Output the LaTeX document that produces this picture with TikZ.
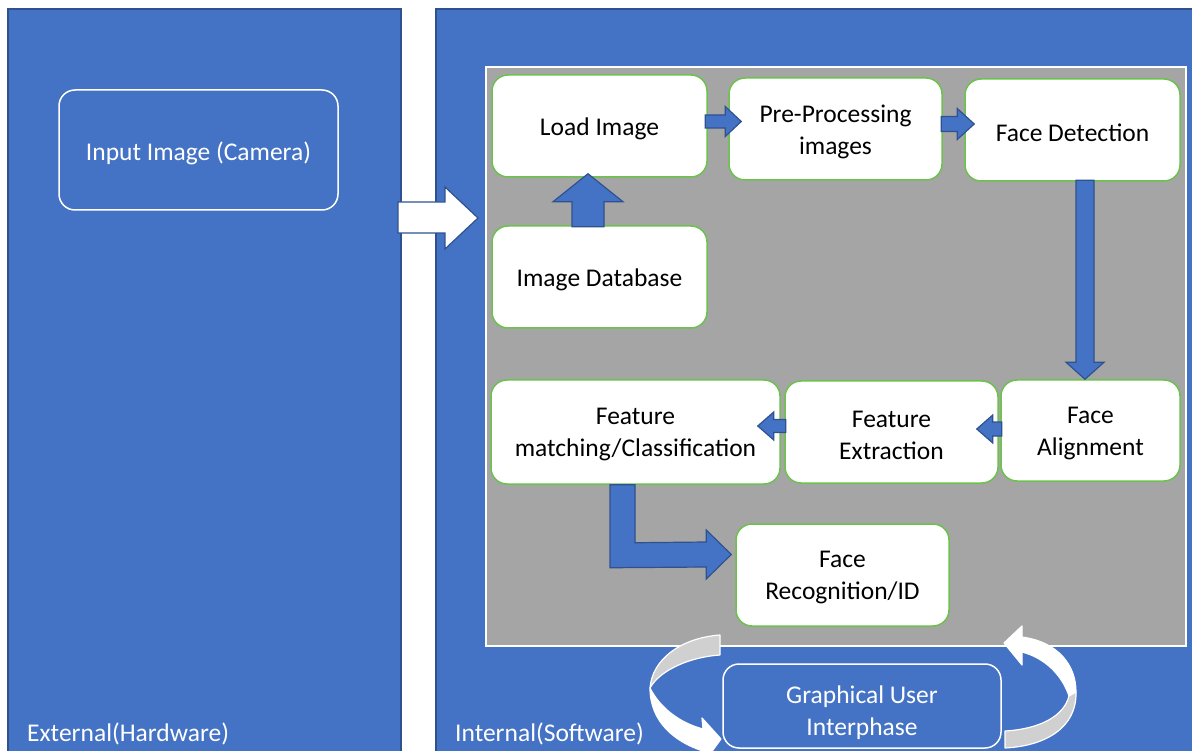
\documentclass[tikz,border=0pt]{standalone}
\usepackage{fontspec}
\setmainfont{Carlito}
\usetikzlibrary{calc}

\definecolor{panelblue}{HTML}{4472C4}
\definecolor{edgeblue}{HTML}{2F528F}
\definecolor{areagray}{HTML}{A5A5A5}
\definecolor{boxgreen}{HTML}{6CC24C}
\definecolor{ribbongray}{HTML}{D0D0D0}

\tikzset{
  panel/.style={fill=panelblue, draw=edgeblue, line width=1.5pt},
  stepbox/.style={draw=boxgreen, fill=white, line width=1.5pt, rounded corners=16pt, inner sep=0pt},
  steptext/.style={align=center, inner sep=0pt, font=\fontsize{25.5}{32}\selectfont},
  outlinebox/.style={draw=white, line width=1.5pt, rounded corners=16pt, inner sep=0pt},
  blk/.style={fill=panelblue, draw=edgeblue, line width=1.2pt, line join=miter},
  ribbon/.style={draw=white, line width=1.2pt, line join=round},
  caption/.style={text=white, inner sep=0pt, anchor=base west, font=\fontsize{25.5}{32}\selectfont},
}

% rounded step box with its text set slightly below centre
% #1 name, #2 centre, #3 width, #4 height, #5 text
\newcommand\stepnode[5]{%
  \node[stepbox, minimum width=#3pt, minimum height=#4pt] (#1) at (#2) {};
  \node[steptext] (#1-text) at ($(#1.center)+(0,3)$) {#5};}

% block arrow: #1 tip, #2 direction angle, #3 total length,
% #4 half shaft width, #5 half head width, #6 head length
\newcommand\blockarrow[6]{%
  \begin{scope}[shift={(#1)}, rotate=#2]
    \draw[blk] (0,0) -- (-#6,-#5) -- (-#6,-#4) -- (-#3,-#4) -- (-#3,#4)
      -- (-#6,#4) -- (-#6,#5) -- cycle;
  \end{scope}}

\begin{document}
\begin{tikzpicture}[x=1pt, y=-1pt]
\useasboundingbox (0,0) rectangle (1192,751);
\begin{scope}
\clip (0,0) rectangle (1192,751);
\fill[white] (0,0) rectangle (1192,751);

% hardware and software panels
\draw[panel] (8,9) rectangle (401,770);
\draw[panel] (436,9) rectangle (1210,770);

% processing area
\draw[fill=areagray, draw=white, line width=2pt] (486,67) rectangle (1186,646);

% camera source
\node[outlinebox, minimum width=279pt, minimum height=120pt] (input) at (198.5,150) {};
\node[steptext, text=white] (input-text) at ($(input.center)+(0,3)$) {Input Image (Camera)};

% big arrow from hardware into software
\draw[fill=white, draw=edgeblue, line width=1.2pt, line join=miter]
  (398,202) -- (445,202) -- (445,187) -- (478,218) -- (445,249) -- (445,233) -- (398,233) -- cycle;

% pipeline steps
\stepnode{load}{599.5,126}{215}{102}{Load Image}
\stepnode{pre}{835.5,129}{213}{102}{Pre-Processing\\images}
\stepnode{detect}{1072.5,130}{215}{102}{Face Detection}
\stepnode{db}{599.5,277}{215}{102}{Image Database}
\stepnode{align}{1090.5,430.5}{179}{101}{Face\\Alignment}
\stepnode{extract}{891.5,432}{213}{102}{Feature\\Extraction}
\stepnode{match}{635.5,432}{289}{104}{Feature\\matching/Classification}
\stepnode{recog}{842.5,575}{213}{102}{Face\\Recognition/ID}

% connectors between steps
\blockarrow{$(load.south)+(-11.5,-4)$}{90}{53}{16}{35}{28}
\blockarrow{$(pre.west)+(13,-7.5)$}{0}{36}{6.5}{15}{16}
\blockarrow{$(detect.west)+(10,-6)$}{0}{33}{7.5}{15.5}{17}
\blockarrow{$(align.north)+(-5.5,0)$}{-90}{199}{9}{19}{17}
\blockarrow{$(extract.east)+(-22,-3)$}{180}{25}{7}{14}{16}
\blockarrow{$(match.east)+(-23,-6)$}{180}{28}{6.5}{14}{16}

% bent arrow from classification to recognition
\coordinate (bendtip) at ($(recog.west)+(-4,-20.5)$);
\draw[blk] ($(match.south)+(-25.5,0)$) -- ($(match.south)+(-0.5,0)$)
  -- ($(match.south)+(-0.5,58)$) -- ($(bendtip)+(-25,-12.5)$)
  -- ($(bendtip)+(-25,-24.5)$) -- (bendtip)
  -- ($(bendtip)+(-25,24.5)$) -- ($(bendtip)+(-25,12.5)$)
  -- ($(match.south)+(-25.5,83)$) -- cycle;

% user interface and its feedback loop
\node[outlinebox, fill=panelblue, minimum width=278pt, minimum height=84pt] (gui) at (862,706) {};
\node[steptext, text=white] (gui-text) at ($(gui.center)+(0,7)$) {Graphical User\\Interphase};

% left loop arrow
\fill[ribbongray] (720,635) .. controls (680,638) and (652,660) .. (650,688)
  .. controls (660,670) and (690,657) .. (720,655) -- cycle;
\draw[ribbon] (720,655) .. controls (690,657) and (660,670) .. (650,688)
  .. controls (652,660) and (680,638) .. (720,635) -- (720,655);
\draw[ribbon, fill=white] (650,688) .. controls (650,722) and (675,742) .. (703,751)
  -- (702,765) -- (721,739) -- (702,718) -- (703,729)
  .. controls (680,723) and (660,708) .. (650,688) -- cycle;

% right loop arrow
\draw[ribbon, fill=white] (1004,643) -- (1022,626) -- (1022,637)
  .. controls (1058,642) and (1076,665) .. (1076,692)
  -- (1069,696) .. controls (1062,675) and (1045,658) .. (1022,652)
  -- (1022,665) -- cycle;
\draw[ribbon, fill=ribbongray] (1076,692) .. controls (1077,728) and (1045,746) .. (1005,748)
  -- (1005,731) .. controls (1040,729) and (1064,716) .. (1069,696) -- cycle;

% panel captions
\node[caption] (hwlabel) at (27,741) {External(Hardware)};
\node[caption] (swlabel) at (455,741) {Internal(Software)};
\end{scope}
\end{tikzpicture}
\end{document}
